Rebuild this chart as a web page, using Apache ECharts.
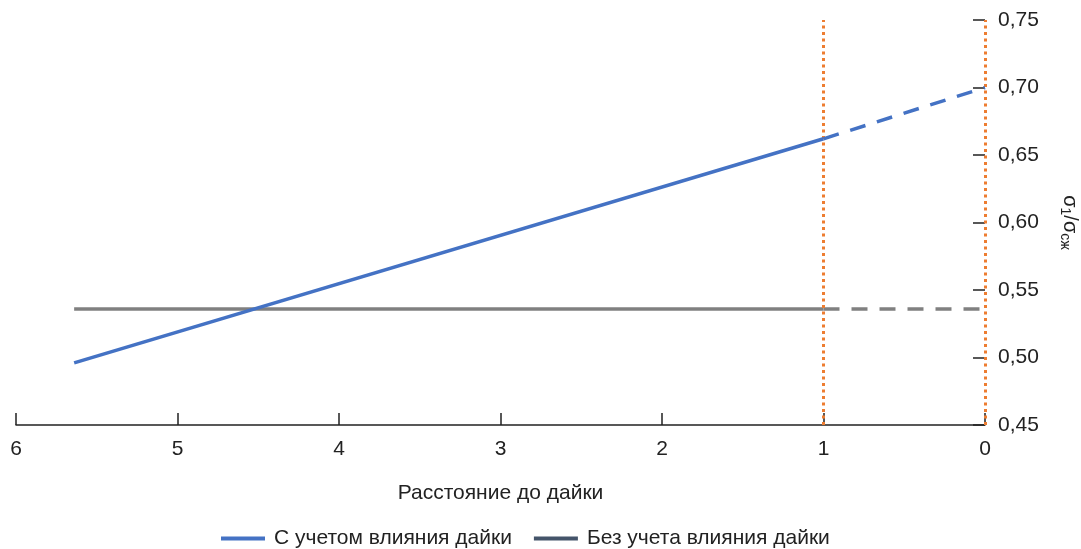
<!DOCTYPE html>
<html>
<head>
<meta charset="utf-8">
<script src="https://cdn.jsdelivr.net/npm/echarts@6/dist/echarts.min.js"></script>
<style>
  html, body { margin: 0; padding: 0; background: #fff; }
  #chart { width: 1081px; height: 549px; }
</style>
</head>
<body>
<div id="chart"></div>
<script>
// данные
const seriesNames = ['С учетом влияния дайки', 'Без учета влияния дайки'];
const distWith = [5.64, 1, 0];
const ratioWith = [0.496, 0.662, 0.700];
const distWithout = [5.64, 1, 0];
const ratioWithout = [0.536, 0.536, 0.536];
const boundaryLines = [1, 0];
const xTicks = [0, 1, 2, 3, 4, 5, 6];
const yTicks = [0.45, 0.50, 0.55, 0.60, 0.65, 0.70, 0.75];

let blue = '#4472c4';
let grey = '#808080';
let legendGrey = '#44546a';
let orange = '#ed7d31';
let ink = '#222222';

function pairs(xs, ys, from, to) {
    let out = [];
    for (let i = from; i <= to; i++) out.push([xs[i], ys[i]]);
    return out;
}

const chart = echarts.init(document.getElementById('chart'));

let option = {
    animation: false,
    textStyle: { fontFamily: 'Liberation Sans, Arial, sans-serif' },
    grid: { left: 16, right: 96, top: 20, bottom: 124, containLabel: false, outerBoundsMode: 'none' },
    legend: {
        top: 523,
        left: 216,
        icon: 'rect',
        itemWidth: 44,
        itemHeight: 4,
        itemGap: 22,
        textStyle: { fontSize: 21, color: ink, padding: [0, 0, 0, 4] },
        data: [
            { name: seriesNames[0], itemStyle: { color: blue } },
            { name: seriesNames[1], itemStyle: { color: legendGrey } }
        ]
    },
    xAxis: {
        type: 'value',
        inverse: true,
        min: xTicks[0],
        max: xTicks[xTicks.length - 1],
        interval: 1,
        name: 'Расстояние до дайки',
        nameLocation: 'middle',
        nameGap: 58,
        nameTextStyle: { fontSize: 21, color: ink },
        axisLine: { lineStyle: { color: ink, width: 1.5 } },
        axisTick: { inside: true, length: 12, lineStyle: { color: ink, width: 1.5 } },
        axisLabel: { fontSize: 21, color: ink, margin: 14 },
        splitLine: { show: false }
    },
    yAxis: {
        type: 'value',
        position: 'right',
        min: yTicks[0],
        max: yTicks[yTicks.length - 1],
        interval: 0.05,
        axisLine: { show: false },
        axisTick: { show: true, inside: true, length: 12, lineStyle: { color: ink, width: 1.5 } },
        axisLabel: {
            fontSize: 21, color: ink, margin: 13,
            formatter: v => v.toFixed(2).replace('.', ',')
        },
        splitLine: { show: false },
        name: '{m|σ}{s|1}{m|/σ}{s|сж}',
        nameLocation: 'middle',
        nameRotate: -90,
        nameGap: 73,
        nameTextStyle: {
            color: ink,
            rich: {
                m: { fontSize: 20, color: ink },
                s: { fontSize: 14, color: ink, padding: [9, 0, 0, 0] }
            }
        }
    },
    series: [
        {
            name: seriesNames[0],
            type: 'line',
            symbol: 'none',
            lineStyle: { color: blue, width: 3.5 },
            itemStyle: { color: blue },
            data: pairs(distWith, ratioWith, 0, 1),
            z: 5
        },
        {
            name: seriesNames[1],
            type: 'line',
            symbol: 'none',
            lineStyle: { color: grey, width: 3.5 },
            itemStyle: { color: legendGrey },
            data: pairs(distWithout, ratioWithout, 0, 1),
            z: 4
        },
        {
            name: 'dash1',
            type: 'line',
            symbol: 'none',
            lineStyle: { color: blue, width: 3.5, type: [16, 12] },
            data: pairs(distWith, ratioWith, 1, 2),
            z: 5
        },
        {
            name: 'dash2',
            type: 'line',
            symbol: 'none',
            lineStyle: { color: grey, width: 3.5, type: [16, 12] },
            data: pairs(distWithout, ratioWithout, 1, 2),
            z: 4
        },
        {
            name: 'bounds',
            type: 'line',
            data: [],
            markLine: {
                silent: true,
                symbol: 'none',
                label: { show: false },
                lineStyle: { color: orange, width: 3, type: [3, 3.5] },
                data: boundaryLines.map(v => ({ xAxis: v }))
            },
            z: 6
        }
    ]
};

chart.setOption(option);
</script>
</body>
</html>
